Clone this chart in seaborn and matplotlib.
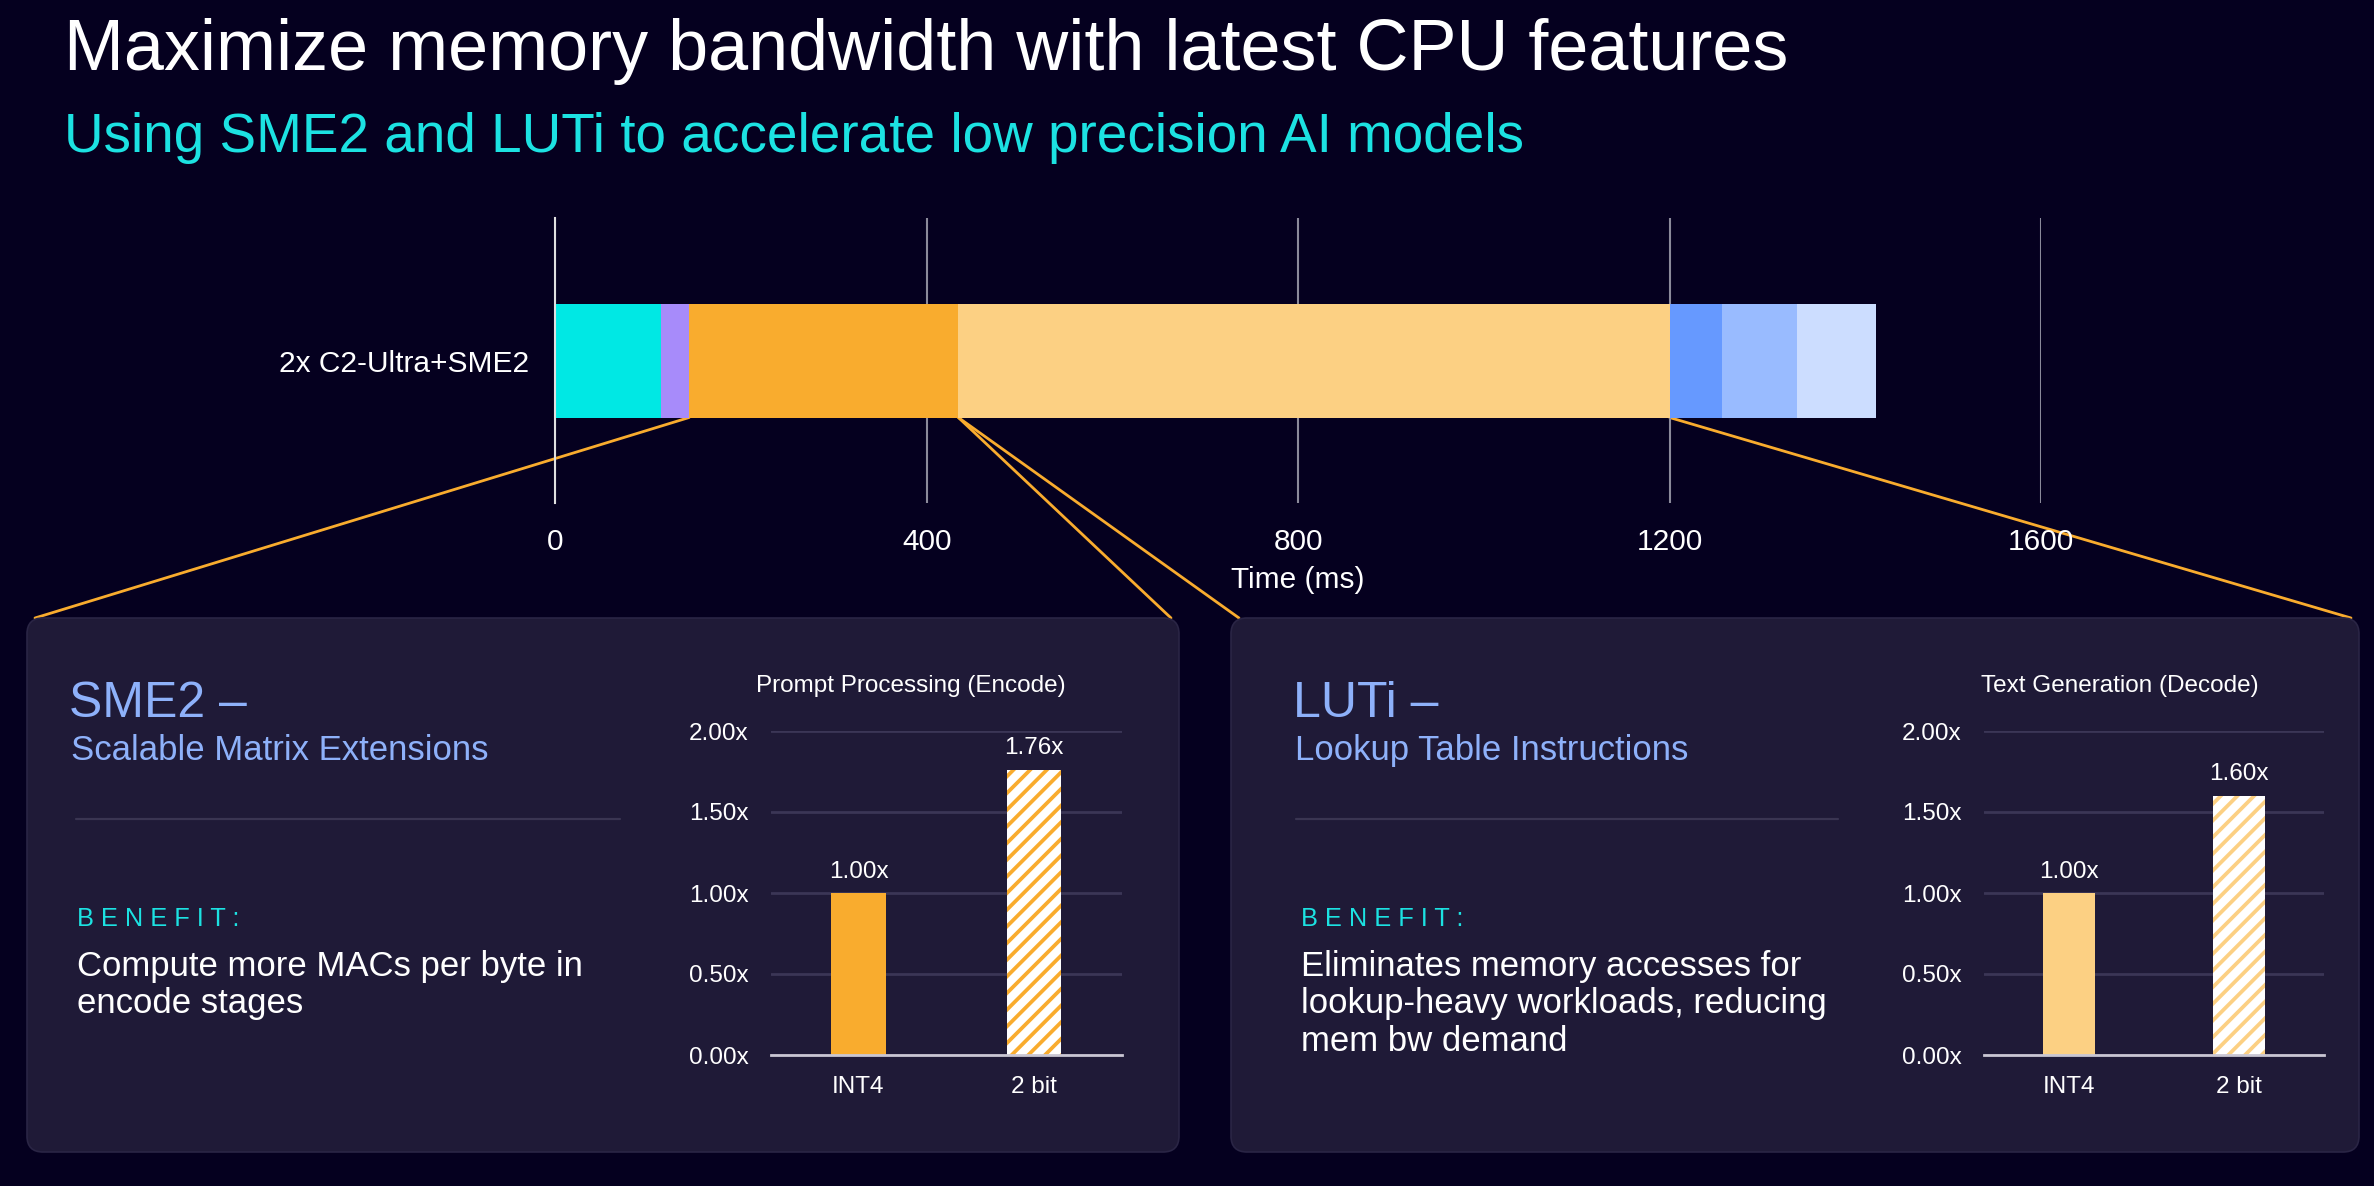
import numpy as np
import pandas as pd
import matplotlib
matplotlib.use("Agg")
import matplotlib.pyplot as plt
import seaborn as sns
from matplotlib.patches import FancyBboxPatch, ConnectionPatch
from matplotlib.lines import Line2D
from matplotlib.ticker import FixedLocator, FuncFormatter

# ---------------- data ----------------
platform = "2x C2-Ultra+SME2"
stage_ms = [114, 30, 290, 766, 56, 81, 85]          # stacked timeline segments (ms)
time_ticks = [0, 400, 800, 1200, 1600]

quant_labels = ["INT4", "2 bit"]
encode_speedup = [1.00, 1.76]
decode_speedup = [1.00, 1.60]
speed_ticks = [0.0, 0.5, 1.0, 1.5, 2.0]

# ---------------- style ----------------
BG = "#05001F"
PANEL = "#1F1A37"
STAGE_COLORS = ["#00E8E4", "#A78BFA", "#F9AC2E", "#FCD083", "#6699FF", "#99BBFF", "#CCDDFF"]
ORANGE = "#F9AC2E"
LIGHT_ORANGE = "#FCD083"
CYAN_TXT = "#1CE2E2"
BLUE_TXT = "#8EB1FA"
GRID_DIM = "#3B3656"

W, H, DPI = 2374, 1186, 100

sns.set_theme(style="dark")
plt.rcParams["font.family"] = ["Liberation Sans", "DejaVu Sans"]
plt.rcParams["hatch.linewidth"] = 2.7


def fx(x):
    return x / W


def fy(y):
    return 1 - y / H


fig = plt.figure(figsize=(W / DPI, H / DPI), dpi=DPI, facecolor=BG)

# background overlay axes in pixel coordinates
bg = fig.add_axes([0, 0, 1, 1], zorder=-1)
bg.set_xlim(0, W)
bg.set_ylim(H, 0)
bg.axis("off")

# ---------------- titles ----------------
fig.text(fx(64), fy(70), "Maximize memory bandwidth with latest CPU features",
         color="white", fontsize=51.8, va="baseline", ha="left")
fig.text(fx(64), fy(152), "Using SME2 and LUTi to accelerate low precision AI models",
         color=CYAN_TXT, fontsize=39.5, va="baseline", ha="left")

# ---------------- top timeline ----------------
ax_top = fig.add_axes([fx(555.4), fy(503), (2041 - 555.4) / W, 285 / H])
ax_top.set_facecolor("none")
cum = np.cumsum(stage_ms)
for end, col in sorted(zip(cum, STAGE_COLORS), key=lambda t: -t[0]):
    sns.barplot(x=[end], y=[platform], orient="h", color=col, width=0.4,
                saturation=1, errorbar=None, ax=ax_top, linewidth=0)
ax_top.set_xlim(0, 1600)
ax_top.xaxis.set_major_locator(FixedLocator(time_ticks))
ax_top.set_axisbelow(True)
ax_top.xaxis.grid(True, color="#8B8A9A", lw=1.5)
ax_top.yaxis.grid(False)
for s in ["top", "right", "bottom"]:
    ax_top.spines[s].set_visible(False)
ax_top.spines["left"].set_color("#E0E0E0")
ax_top.spines["left"].set_linewidth(1.5)
ax_top.tick_params(axis="x", length=0, pad=18, labelsize=21.5, labelcolor="white")
ax_top.tick_params(axis="y", length=0, pad=19, labelsize=21.5, labelcolor="white")
ax_top.set_ylabel("")
ax_top.set_xlabel("Time (ms)", color="white", fontsize=21.5, labelpad=7)

p0 = ax_top.patches[0]
y_a, y_b = p0.get_y(), p0.get_y() + p0.get_height()
ybot = y_b if ax_top.yaxis_inverted() else y_a

# ---------------- panels ----------------
panels = [(27, 618, 1152, 534), (1231, 618, 1128, 534)]
for (x0, y0, w, h) in panels:
    bg.add_patch(FancyBboxPatch((x0, y0), w, h, boxstyle="round,pad=0,rounding_size=16",
                                fc=PANEL, ec="#2A2545", lw=1.2, zorder=3))

# connectors (zoom callouts) drawn beneath panels
inset = 8
conns = [
    (cum[1], (panels[0][0] + inset, panels[0][1])),
    (cum[2], (panels[0][0] + panels[0][2] - inset, panels[0][1])),
    (cum[2], (panels[1][0] + inset, panels[1][1])),
    (cum[3], (panels[1][0] + panels[1][2] - inset, panels[1][1])),
]
for xa, xyb in conns:
    con = ConnectionPatch(xyA=(xa, ybot), coordsA=ax_top.transData,
                          xyB=xyb, coordsB=bg.transData,
                          color=ORANGE, lw=2, zorder=1)
    con.set_clip_on(False)
    bg.add_artist(con)

# dividers
for (xa, xb) in [(76, 620), (1296, 1838)]:
    bg.add_line(Line2D([xa, xb], [819, 819], color="#3A3552", lw=1.6, zorder=4))

# panel texts
def panel_text(x, heading, sub, body_lines):
    fig.text(fx(x - 2), fy(717), heading, color=BLUE_TXT, fontsize=36, va="baseline")
    fig.text(fx(x), fy(760), sub, color=BLUE_TXT, fontsize=25, va="baseline")
    fig.text(fx(x + 6), fy(926), "B E N E F I T :", color=CYAN_TXT, fontsize=18.3, va="baseline")
    for i, line in enumerate(body_lines):
        fig.text(fx(x + 6), fy(976 + 37.3 * i), line, color="white", fontsize=25, va="baseline")


panel_text(71, "SME2 \u2013", "Scalable Matrix Extensions",
           ["Compute more MACs per byte in", "encode stages"])
panel_text(1295, "LUTi \u2013", "Lookup Table Instructions",
           ["Eliminates memory accesses for", "lookup-heavy workloads, reducing", "mem bw demand"])

# ---------------- panel bar charts ----------------
def speed_chart(rect, title, values, base_color):
    ax = fig.add_axes(rect)
    ax.set_facecolor("none")
    df = pd.DataFrame({"q": quant_labels, "v": values})
    sns.barplot(data=df, x="q", y="v", hue="q", palette=[base_color, "white"],
                width=0.31, saturation=1, errorbar=None, legend=False, ax=ax, linewidth=0)
    hatched = ax.patches[1]
    hatched.set_hatch("//")
    hatched.set_edgecolor(base_color)
    hatched.set_linewidth(0)
    ax.set_ylim(0, 2.0)
    ax.yaxis.set_major_locator(FixedLocator(speed_ticks))
    ax.yaxis.set_major_formatter(FuncFormatter(lambda v, p: f"{v:.2f}x"))
    ax.set_axisbelow(True)
    ax.yaxis.grid(True, color=GRID_DIM, lw=2)
    ax.xaxis.grid(False)
    for s in ["top", "right", "left"]:
        ax.spines[s].set_visible(False)
    ax.spines["bottom"].set_color("#C9C6D3")
    ax.spines["bottom"].set_linewidth(2)
    ax.tick_params(axis="y", length=0, pad=16, labelsize=17.5, labelcolor="white")
    ax.tick_params(axis="x", length=0, pad=15, labelsize=17.5, labelcolor="white")
    ax.set_xlabel("")
    ax.set_ylabel("")
    for cont, v in zip(ax.containers, values):
        ax.bar_label(cont, labels=[f"{v:.2f}x"], padding=7.5, color="white", fontsize=17.5)
    ax.text(0.4, 1.139, title, transform=ax.transAxes, ha="center", va="center",
            color="white", fontsize=17.5)
    return ax


speed_chart([fx(770.6), fy(1055), 351.4 / W, 324 / H], "Prompt Processing (Encode)",
            encode_speedup, ORANGE)
speed_chart([fx(1984), fy(1055), 340 / W, 324 / H], "Text Generation (Decode)",
            decode_speedup, LIGHT_ORANGE)

fig.savefig("out.png", dpi=DPI, facecolor=BG)
